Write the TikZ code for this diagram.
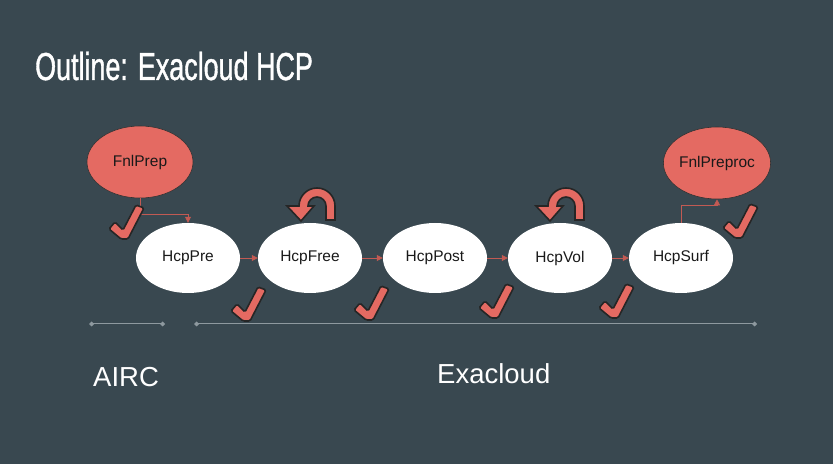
\documentclass[tikz,border=0pt]{standalone}
\usepackage{fontspec}
\setmainfont{Liberation Sans}
\newfontfamily\titlefont[FakeStretch=0.69,FakeBold=1]{Liberation Sans}
\usepackage{tikz}
\usetikzlibrary{arrows.meta,shapes.geometric}
\definecolor{slatebg}{HTML}{394850}
\definecolor{jobred}{HTML}{E46A62}
\definecolor{lineclr}{HTML}{8E999F}
\tikzset{job/.style={ellipse, fill=white, minimum width=104pt, minimum height=70pt,
  inner sep=0pt, font=\fontsize{15.5}{18}\selectfont, text=black!90}}
\tikzset{prepjob/.style={job, fill=jobred, draw=black!80, line width=0.6pt,
  minimum width=106pt, minimum height=72pt}}
\tikzset{flow/.style={draw=jobred!85!black, line width=0.8pt,
  -{Triangle[length=6pt,width=6pt]}}}
\tikzset{timeline/.style={draw=lineclr, line width=1pt,
  {Diamond[length=5pt,width=5pt]}-{Diamond[length=5pt,width=5pt]}}}
\tikzset{tick/.pic={
  \filldraw[fill=jobred, draw=black!85, line width=1.6pt, rounded corners=1.5pt]
    (-2,-1) -- (-14,9) -- (-8,16) -- (0,8) -- (13,33) -- (21,30) -- (5,-1) -- cycle;}}
\tikzset{loopback/.pic={
  \filldraw[fill=jobred, draw=black!85, line width=1.6pt]
    (9,-14) -- (9,0) arc[start angle=0, end angle=180, radius=9]
    -- (-3,0) -- (-16,-15) -- (-30,0) -- (-18,0)
    arc[start angle=180, end angle=0, radius=18] -- (18,-14) -- cycle;}}

\begin{document}
\begin{tikzpicture}[x=1pt, y=1pt]
\useasboundingbox[fill=slatebg] (0,0) rectangle (833,464);

\node[anchor=base west, text=white, font=\titlefont\fontsize{39}{44}\selectfont,
  inner sep=0pt] (title) at (35,384) {Outline: Exacloud HCP};

% jobs
\node[prepjob] (fnlprep) at (140,302) {FnlPrep};
\node[job] (hcppre) at (188,206) {HcpPre};
\node[job] (hcpfree) at (310,206) {HcpFree};
\node[job] (hcppost) at (435,206) {HcpPost};
\node[job] (hcpvol) at (560,206) {HcpVol};
\node[job] (hcpsurf) at (681,206) {HcpSurf};
\node[prepjob] (fnlpreproc) at (717,301) {FnlPreproc};

% flow
\draw[flow] (fnlprep.south) -- ++(0,-16) -| (hcppre.north);
\draw[flow] (hcppre) -- (hcpfree);
\draw[flow] (hcpfree) -- (hcppost);
\draw[flow] (hcppost) -- (hcpvol);
\draw[flow] (hcpvol) -- (hcpsurf);
\draw[flow] (hcpsurf.north) -- ++(0,17) -| (fnlpreproc.south);

% loops
\pic at (317,258) {loopback};
\pic at (566,258) {loopback};

% checks
\pic at (123,226) {tick};
\pic at (245,144) {tick};
\pic at (368,145) {tick};
\pic at (493,147) {tick};
\pic at (613,147) {tick};
\pic at (737,227) {tick};

% sites
\coordinate (airc1) at (89,140);
\coordinate (airc2) at (165,140);
\coordinate (exa1) at (194,140);
\coordinate (exa2) at (757,140);
\draw[timeline] (airc1) -- (airc2);
\draw[timeline] (exa1) -- (exa2);
\node[anchor=base west, text=white, inner sep=0pt, font=\fontsize{27.5}{32}\selectfont]
  (airc) at (93,78) {AIRC};
\node[anchor=base west, text=white, inner sep=0pt, font=\fontsize{27.5}{32}\selectfont]
  (exacloud) at (437,81) {Exacloud};

\end{tikzpicture}
\end{document}
